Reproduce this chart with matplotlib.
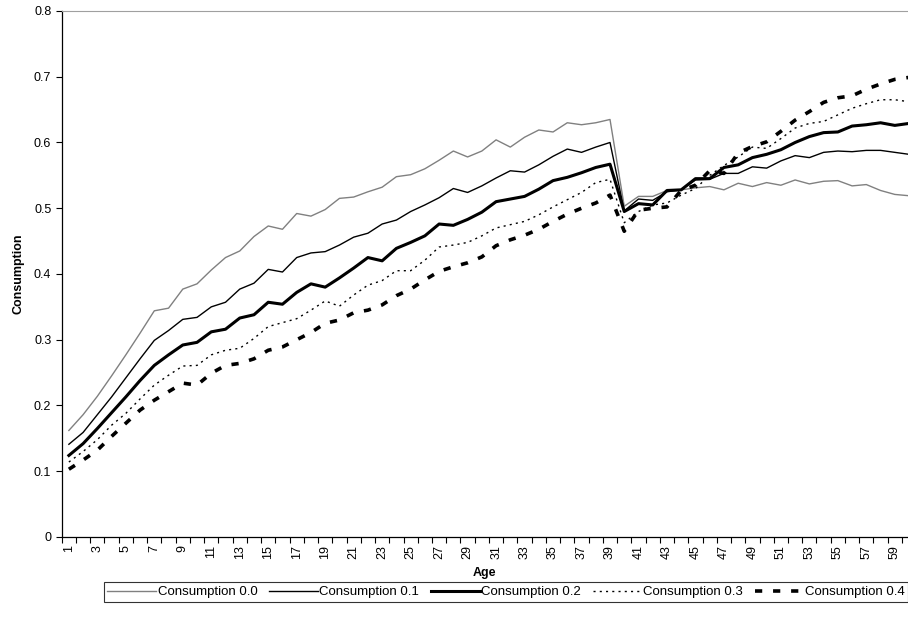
import numpy as np
import matplotlib
matplotlib.use("Agg")
import matplotlib.pyplot as plt
from matplotlib.ticker import FixedLocator, FuncFormatter

plt.rcParams['font.family'] = ['Liberation Sans', 'DejaVu Sans']

# Data (ages 1..60)
ages = list(range(1, 61))

cons_00 = [0.162, 0.186, 0.214, 0.245, 0.277, 0.310, 0.344, 0.348, 0.377, 0.385,
           0.406, 0.425, 0.435, 0.457, 0.473, 0.468, 0.492, 0.488, 0.498, 0.515,
           0.517, 0.525, 0.532, 0.548, 0.551, 0.560, 0.573, 0.587, 0.578, 0.587,
           0.604, 0.593, 0.608, 0.619, 0.616, 0.630, 0.627, 0.630, 0.635, 0.503,
           0.518, 0.518, 0.527, 0.528, 0.531, 0.533, 0.528, 0.538, 0.533, 0.539,
           0.535, 0.543, 0.537, 0.541, 0.542, 0.534, 0.536, 0.527, 0.521, 0.519]

cons_01 = [0.141, 0.159, 0.186, 0.213, 0.242, 0.271, 0.299, 0.314, 0.331, 0.334,
           0.350, 0.357, 0.377, 0.386, 0.407, 0.403, 0.425, 0.432, 0.434, 0.444,
           0.456, 0.462, 0.476, 0.482, 0.495, 0.505, 0.516, 0.530, 0.524, 0.534,
           0.546, 0.557, 0.555, 0.566, 0.579, 0.590, 0.585, 0.593, 0.600, 0.496,
           0.514, 0.512, 0.525, 0.528, 0.543, 0.544, 0.553, 0.553, 0.563, 0.561,
           0.572, 0.580, 0.577, 0.585, 0.587, 0.586, 0.588, 0.588, 0.585, 0.582]

cons_02 = [0.124, 0.142, 0.165, 0.189, 0.213, 0.238, 0.261, 0.277, 0.292, 0.296,
           0.312, 0.316, 0.333, 0.338, 0.357, 0.354, 0.372, 0.385, 0.380, 0.394,
           0.409, 0.425, 0.420, 0.439, 0.448, 0.458, 0.476, 0.474, 0.483, 0.494,
           0.510, 0.514, 0.518, 0.529, 0.542, 0.547, 0.554, 0.562, 0.567, 0.495,
           0.507, 0.505, 0.527, 0.528, 0.545, 0.545, 0.562, 0.566, 0.577, 0.582,
           0.589, 0.600, 0.609, 0.615, 0.616, 0.625, 0.627, 0.630, 0.626, 0.629]

cons_03 = [0.114, 0.130, 0.148, 0.170, 0.188, 0.210, 0.231, 0.246, 0.260, 0.261,
           0.277, 0.284, 0.287, 0.302, 0.320, 0.326, 0.332, 0.345, 0.359, 0.351,
           0.368, 0.383, 0.390, 0.405, 0.405, 0.421, 0.441, 0.444, 0.448, 0.458,
           0.470, 0.475, 0.480, 0.490, 0.502, 0.513, 0.524, 0.539, 0.544, 0.478,
           0.495, 0.505, 0.508, 0.520, 0.530, 0.550, 0.565, 0.578, 0.593, 0.591,
           0.606, 0.622, 0.629, 0.632, 0.642, 0.652, 0.659, 0.665, 0.665, 0.662]

cons_04 = [0.103, 0.117, 0.132, 0.153, 0.173, 0.193, 0.208, 0.221, 0.234, 0.231,
           0.249, 0.261, 0.264, 0.271, 0.284, 0.289, 0.300, 0.311, 0.325, 0.330,
           0.341, 0.345, 0.353, 0.367, 0.377, 0.391, 0.404, 0.411, 0.417, 0.426,
           0.443, 0.452, 0.459, 0.468, 0.480, 0.491, 0.500, 0.508, 0.520, 0.465,
           0.497, 0.500, 0.502, 0.527, 0.535, 0.557, 0.553, 0.584, 0.594, 0.601,
           0.617, 0.634, 0.647, 0.661, 0.668, 0.671, 0.681, 0.689, 0.696, 0.699]

labels = ["Consumption 0.0", "Consumption 0.1", "Consumption 0.2",
          "Consumption 0.3", "Consumption 0.4"]

fig = plt.figure(figsize=(9.08, 6.21), dpi=100)
# plot area runs a little past the right edge of the picture, as in the reference
ax = fig.add_axes([0.068, 0.1353, 0.941, 0.847])

ax.plot(ages, cons_00, color="#808080", lw=1.0, label=labels[0])
ax.plot(ages, cons_01, color="black", lw=1.0, label=labels[1])
ax.plot(ages, cons_02, color="black", lw=2.2, label=labels[2])
ax.plot(ages, cons_03, color="black", lw=1.0, linestyle=(0, (1.5, 3)), label=labels[3])
ax.plot(ages, cons_04, color="black", lw=2.6, linestyle=(0, (2, 3)), label=labels[4])

ax.set_xlim(0.5, 60.5)
ax.set_ylim(0, 0.8)

# category axis: tick marks between categories, labels on odd ages
ax.xaxis.set_major_locator(FixedLocator(np.arange(0.5, 61, 1)))
ax.xaxis.set_major_formatter(FuncFormatter(lambda v, p: ""))
ax.xaxis.set_minor_locator(FixedLocator(ages[::2]))
ax.xaxis.set_minor_formatter(FuncFormatter(lambda v, p: f"{int(round(v))}"))
ax.tick_params(axis="x", which="major", direction="out", length=4, width=0.8)
ax.tick_params(axis="x", which="minor", length=0, labelsize=9, labelrotation=90, pad=6)

ax.set_yticks(np.arange(0, 0.81, 0.1))
ax.yaxis.set_major_formatter(FuncFormatter(lambda v, p: "0" if abs(v) < 1e-9 else f"{v:.1f}"))
ax.tick_params(axis="y", direction="out", length=4, width=0.8, labelsize=9)

ax.spines["right"].set_visible(False)
ax.spines["top"].set_color("#a0a0a0")
ax.spines["left"].set_linewidth(0.9)
ax.spines["bottom"].set_linewidth(0.9)

ax.set_xlabel("Age", fontsize=9, fontweight="bold")
ax.xaxis.set_label_coords((484 - 61.7) / (0.941 * 908), -0.057)
ax.set_ylabel("Consumption", fontsize=9, fontweight="bold", labelpad=7)

handles, lbls = ax.get_legend_handles_labels()
leg = fig.legend(handles, lbls, loc="center", bbox_to_anchor=(506 / 908, 1 - 592 / 621),
                 ncol=5, fontsize=9.5, frameon=True, fancybox=False, edgecolor="black",
                 handlelength=3.7, handletextpad=0.1, columnspacing=0.9,
                 borderpad=0.3, borderaxespad=0)
leg.get_frame().set_linewidth(0.8)

fig.savefig("out.png", dpi=100)
